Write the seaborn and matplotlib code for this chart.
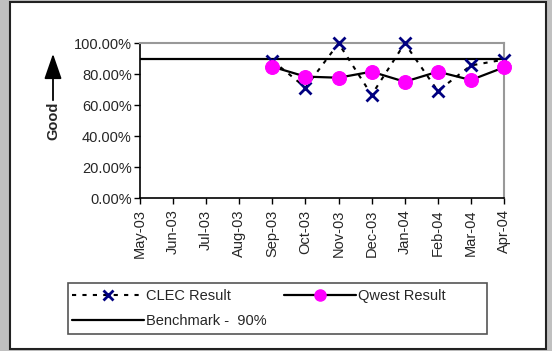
import matplotlib
matplotlib.use("Agg")
import matplotlib.pyplot as plt
import seaborn as sns
import pandas as pd
from matplotlib.patches import Rectangle, FancyArrowPatch
from matplotlib.lines import Line2D
from matplotlib.ticker import PercentFormatter

months = ["May-03", "Jun-03", "Jul-03", "Aug-03", "Sep-03", "Oct-03",
          "Nov-03", "Dec-03", "Jan-04", "Feb-04", "Mar-04", "Apr-04"]
clec = [None, None, None, None, 88.89, 71.43, 100.0, 66.67, 100.0, 69.23, 85.71, 89.47]
qwest = [None, None, None, None, 84.9, 78.5, 77.8, 81.7, 75.2, 81.7, 76.3, 84.5]
benchmark = [90] * 12

FS = 10.5

sns.set_style("white")
plt.rcParams["font.family"] = ["Liberation Sans", "DejaVu Sans"]
plt.rcParams["font.size"] = FS

df = pd.DataFrame({"pos": range(len(months)), "clec": clec, "qwest": qwest, "bench": benchmark})
df = df.astype(float)

W, H = 552, 351
fig = plt.figure(figsize=(W / 100, H / 100), dpi=100)
fig.patch.set_facecolor("#c0c0c0")
fig.patches.append(Rectangle((10 / W, 2 / H), 536 / W, 347 / H, transform=fig.transFigure,
                             facecolor="white", edgecolor="#222222", linewidth=1.5, zorder=-10))

ax = fig.add_axes([140 / W, 1 - 198.3 / H, 364 / W, 155 / H])
ax.set_facecolor("white")

sns.lineplot(data=df, x="pos", y="bench", ax=ax, color="black", linewidth=1.6, zorder=2)
sns.lineplot(data=df, x="pos", y="clec", ax=ax, color="black", linewidth=1.5,
             linestyle=(0, (2, 3)), zorder=3)
ax.plot(df["pos"], df["clec"], linestyle="none", marker="x", color="#000080",
        markersize=8, markeredgewidth=2, zorder=4, clip_on=False)
sns.lineplot(data=df, x="pos", y="qwest", ax=ax, color="black", linewidth=1.6,
             marker="o", markersize=10, markerfacecolor="#ff00ff", markeredgecolor="#ff00ff",
             zorder=5, clip_on=False)

ax.set_xlim(0, len(months) - 1)
ax.set_ylim(0, 100)
ax.set_xticks(range(len(months)))
ax.set_xticklabels(months, rotation=90)
ax.set_yticks(range(0, 101, 20))
ax.yaxis.set_major_formatter(PercentFormatter(100, decimals=2))
ax.tick_params(axis="both", direction="out", length=4, width=1, color="black",
               labelsize=FS, pad=2, bottom=True, left=True)
ax.tick_params(axis="x", pad=4)
ax.set_xlabel("")
ax.set_ylabel("")
for side in ["left", "bottom"]:
    ax.spines[side].set_color("black")
    ax.spines[side].set_linewidth(1.2)
for side in ["top", "right"]:
    ax.spines[side].set_color("#999999")
    ax.spines[side].set_linewidth(1.5)
    ax.spines[side].set_visible(True)

# "Good" label with arrow
fig.text(53 / W, 1 - 121 / H, "Good", rotation=90, fontweight="bold", fontsize=FS,
         ha="center", va="center")
fig.add_artist(FancyArrowPatch(
    (53 / W, 1 - 103 / H), (53 / W, 1 - 51 / H), transform=fig.transFigure,
    arrowstyle="-|>,head_length=1.3,head_width=0.45", mutation_scale=12,
    color="black", linewidth=1.3))

handles = [
    Line2D([], [], color="black", linestyle=(0, (2, 3)), linewidth=1.5, marker="x",
           markersize=7, markeredgewidth=2, markeredgecolor="#000080"),
    Line2D([], [], color="black", linewidth=1.6),
    Line2D([], [], color="black", linewidth=1.6, marker="o", markersize=8,
           markerfacecolor="#ff00ff", markeredgecolor="#ff00ff"),
]
labels = ["CLEC Result", "Benchmark -  90%", "Qwest Result"]
leg = fig.legend(handles, labels, loc="upper left", ncol=2,
                 bbox_to_anchor=(68 / W, 1 - 285 / H),
                 frameon=False, handlelength=4.9, handletextpad=0.15,
                 borderpad=0.3, labelspacing=0.75, columnspacing=1.2,
                 fontsize=FS, borderaxespad=0)
fig.patches.append(Rectangle((68 / W, 1 - 334 / H), 419 / W, 51 / H, transform=fig.transFigure,
                             facecolor="none", edgecolor="#555555", linewidth=1.2))

fig.savefig("out.png", dpi=100, facecolor=fig.get_facecolor())
